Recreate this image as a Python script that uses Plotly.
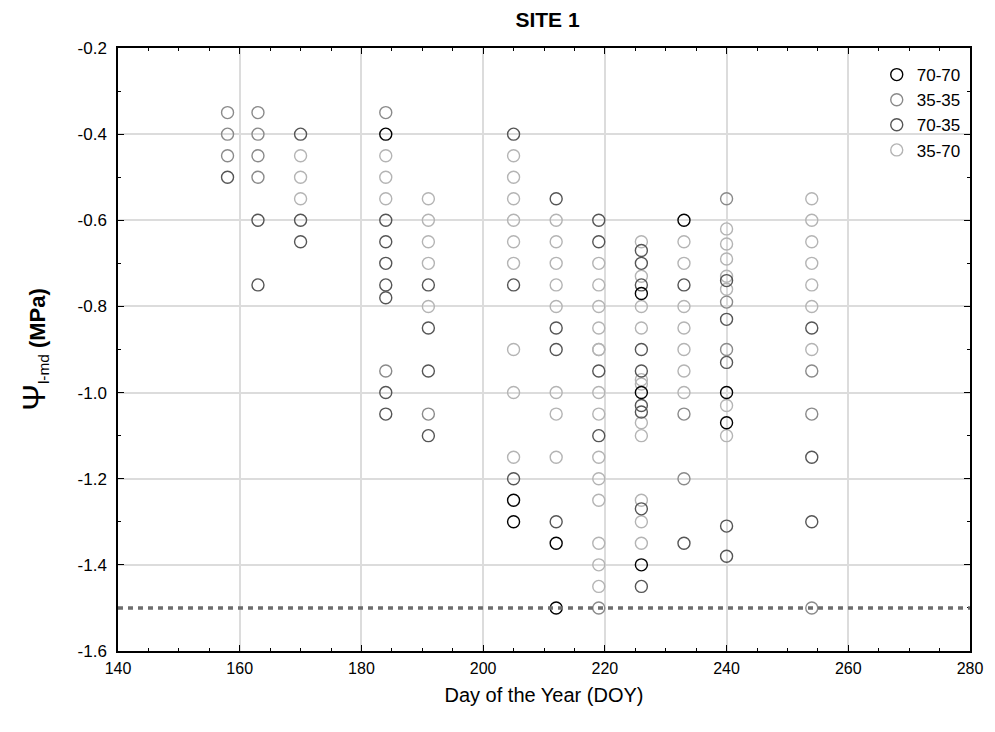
import plotly.graph_objects as go

# DOY sampling days and water potential (MPa) per treatment
doy_7070 = [184, 205, 205, 212, 212, 226, 226, 226, 233, 240, 240]
psi_7070 = [-0.40, -1.25, -1.30, -1.35, -1.50, -0.77, -1.00, -1.40, -0.60, -1.00, -1.07]

doy_3535 = [158, 158, 158, 163, 163, 163, 163, 184, 184, 191, 219, 233, 233, 240, 240, 240, 254, 254, 254]
psi_3535 = [-0.35, -0.40, -0.45, -0.35, -0.40, -0.45, -0.50, -0.35, -0.95, -1.05, -1.50, -1.05, -1.20, -0.55, -0.79, -0.90, -0.95, -1.05, -1.50]

doy_7035 = [158, 163, 163, 170, 170, 170,
            184, 184, 184, 184, 184, 184, 184,
            191, 191, 191, 191,
            205, 205, 205,
            212, 212, 212, 212,
            219, 219, 219, 219,
            226, 226, 226, 226, 226, 226, 226, 226, 226,
            233, 233,
            240, 240, 240, 240, 240,
            254, 254, 254]
psi_7035 = [-0.50, -0.60, -0.75, -0.40, -0.60, -0.65,
            -0.60, -0.65, -0.70, -0.75, -0.78, -1.00, -1.05,
            -0.75, -0.85, -0.95, -1.10,
            -0.40, -0.75, -1.20,
            -0.55, -0.85, -0.90, -1.30,
            -0.60, -0.65, -0.95, -1.10,
            -0.67, -0.70, -0.75, -0.90, -0.95, -1.03, -1.045, -1.27, -1.45,
            -0.75, -1.35,
            -0.74, -0.83, -0.93, -1.31, -1.38,
            -0.85, -1.15, -1.30]

doy_3570 = [170, 170, 170,
            184, 184, 184,
            191, 191, 191, 191, 191,
            205, 205, 205, 205, 205, 205, 205, 205, 205,
            212, 212, 212, 212, 212, 212, 212, 212,
            219, 219, 219, 219, 219, 219, 219, 219, 219, 219, 219, 219, 219, 219,
            226, 226, 226, 226, 226, 226, 226, 226, 226, 226, 226,
            233, 233, 233, 233, 233, 233, 233,
            240, 240, 240, 240, 240, 240, 240,
            254, 254, 254, 254, 254, 254, 254]
psi_3570 = [-0.45, -0.50, -0.55,
            -0.45, -0.50, -0.55,
            -0.55, -0.60, -0.65, -0.70, -0.80,
            -0.45, -0.50, -0.55, -0.60, -0.65, -0.70, -0.90, -1.00, -1.15,
            -0.60, -0.65, -0.70, -0.75, -0.80, -1.00, -1.05, -1.15,
            -0.70, -0.75, -0.80, -0.85, -0.90, -1.00, -1.05, -1.15, -1.20, -1.25, -1.35, -1.40, -1.45, -0.90,
            -0.65, -0.73, -0.80, -0.85, -0.97, -0.98, -1.07, -1.10, -1.25, -1.30, -1.35,
            -0.65, -0.70, -0.80, -0.85, -0.90, -0.95, -1.00,
            -0.62, -0.655, -0.69, -0.73, -0.76, -1.03, -1.10,
            -0.55, -0.60, -0.65, -0.70, -0.75, -0.80, -0.90]

threshold = -1.5
x_ticks = [140, 160, 180, 200, 220, 240, 260, 280]
y_ticks = [-1.6, -1.4, -1.2, -1.0, -0.8, -0.6, -0.4, -0.2]

series = [
    ("70-70", doy_7070, psi_7070, "#000000", 1),
    ("35-35", doy_3535, psi_3535, "#8a8a8a", 2),
    ("70-35", doy_7035, psi_7035, "#555555", 3),
    ("35-70", doy_3570, psi_3570, "#b4b4b4", 4),
]

fig = go.Figure()
# draw light first so dark are on top
for name, xs, ys, col, rank in reversed(series):
    fig.add_trace(go.Scatter(
        x=xs, y=ys, mode="markers", name=name, legendgroup=name, legendrank=rank,
        marker=dict(symbol="circle-open", size=12, color=col, line=dict(width=1.4, color=col)),
    ))

fig.add_shape(type="line", xref="paper", x0=0, x1=1, yref="y", y0=threshold, y1=threshold,
              line=dict(color="#6e6e6e", width=3.5, dash="5px,5px"))

axis_common = dict(
    showgrid=True, gridcolor="#dcdcdc", gridwidth=1.5,
    showline=True, linecolor="black", linewidth=1.5, mirror="ticks",
    ticks="inside", ticklen=6, tickcolor="black", tickwidth=1,
    zeroline=False,
)

fig.update_layout(
    width=995, height=732,
    margin=dict(l=118, r=18, t=48, b=81),
    paper_bgcolor="white", plot_bgcolor="white",
    title=dict(text="<b>SITE 1</b>", x=(118 + 977) / 2 / 995, xanchor="center", y=0.973, yanchor="middle",
               font=dict(family="Liberation Sans, Arial", size=21, color="black")),
    xaxis=dict(range=[140, 280], tickvals=x_ticks, ticktext=[str(v) for v in x_ticks],
               minor=dict(dtick=5, ticks="inside", ticklen=3, tickcolor="black", showgrid=False),
               tickfont=dict(family="Liberation Sans, Arial", size=16, color="black"),
               ticklabelstandoff=2,
               title=dict(text="Day of the Year (DOY)", standoff=12,
                          font=dict(family="Liberation Sans, Arial", size=20, color="black")),
               **axis_common),
    yaxis=dict(range=[-1.6, -0.2], tickvals=y_ticks, ticktext=[f"{v:.1f}" for v in y_ticks],
               minor=dict(dtick=0.1, ticks="inside", ticklen=3, tickcolor="black", showgrid=False),
               tickfont=dict(family="Liberation Sans, Arial", size=17, color="black"),
               ticklabelstandoff=6,
               title=dict(text="<span style='font-size:32px'>Ψ</span><sub>l-md</sub> <b>(MPa)</b>", standoff=26,
                          font=dict(family="Liberation Sans, Arial", size=22, color="black")),
               **axis_common),
    legend=dict(x=0.995, xanchor="right", y=0.985, yanchor="top", traceorder="grouped",
                tracegroupgap=0, bgcolor="rgba(0,0,0,0)",
                font=dict(family="Liberation Sans, Arial", size=17, color="black")),
    showlegend=True,
)

fig.write_html("out.html")
